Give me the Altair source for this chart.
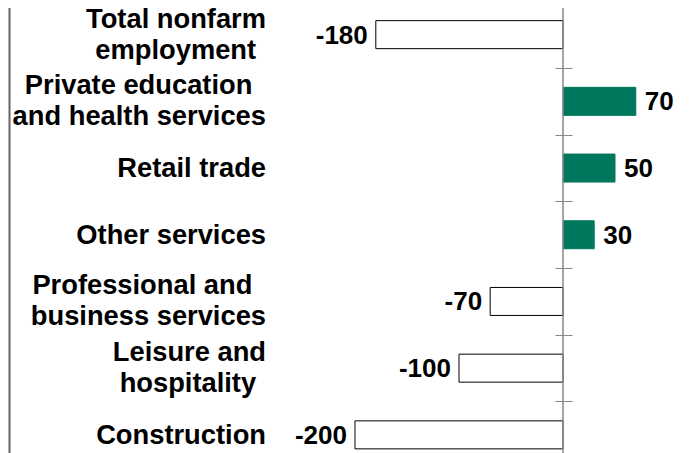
import altair as alt
import pandas as pd

categories = [
    "Total nonfarm employment",
    "Private education and health services",
    "Retail trade",
    "Other services",
    "Professional and business services",
    "Leisure and hospitality",
    "Construction",
]
label_lines = [
    ["Total nonfarm", "employment\u00a0\u200a\u200b"],
    ["Private education\u2002\u200b", "and health services"],
    ["Retail trade"],
    ["Other services"],
    ["Professional and\u2002\u200b", "business services"],
    ["Leisure and", "hospitality\u00a0\u200a\u200b"],
    ["Construction"],
]
values = [-180, 70, 50, 30, -70, -100, -200]
value_labels = ["-180", "70", "50", "30", "-70", "-100", "-200"]

df = pd.DataFrame({
    "category": categories,
    "label": ["\n".join(l) for l in label_lines],
    "nlines": [len(l) for l in label_lines],
    "value": values,
    "vlabel": value_labels,
})

W, H = 674, 445
yscale = alt.Scale(range=[-6.7, 460.2], paddingInner=0, paddingOuter=0)
xscale = alt.Scale(domain=[-533.65, 114.42], nice=False, zero=False)
FONT = "Liberation Sans"

y_axis = alt.Axis(orient="left", offset=-564, domain=False, labels=False,
                  ticks=True, tickSize=17, tickColor="#888888", tickWidth=1,
                  tickBand="extent", title=None, grid=False)
y_enc = alt.Y("category:N", sort=categories, scale=yscale, axis=y_axis)
x_enc = alt.X("value:Q", scale=xscale, axis=None)

base = alt.Chart(df)

bars = base.mark_bar(strokeWidth=1, size=28).encode(
    x=x_enc,
    x2=alt.datum(0),
    y=y_enc,
    fill=alt.when(alt.datum.value > 0).then(alt.value("#00785E")).otherwise(alt.value("white")),
    stroke=alt.when(alt.datum.value > 0).then(alt.value("#00785E")).otherwise(alt.value("black")),
)

zero_line = alt.Chart(pd.DataFrame({"z": [0]})).mark_rule(color="#888888", strokeWidth=1.5).encode(
    x=alt.X("z:Q", scale=xscale, axis=None),
    y=alt.value(-10),
    y2=alt.value(470),
)

left_border = alt.Chart(pd.DataFrame({"z": [0]})).mark_rule(color="#666666", strokeWidth=2).encode(
    x=alt.value(1.5),
    y=alt.value(-10),
    y2=alt.value(470),
)

text_style = dict(align="right", baseline="middle", lineBreak="\n", lineHeight=31,
                  fontSize=27.3, fontWeight="bold", font=FONT, color="black")

cat_labels_1 = base.transform_filter(alt.datum.nlines == 1).mark_text(
    dy=1, **text_style
).encode(x=alt.value(258), y=y_enc, text="label:N")

cat_labels_2 = base.transform_filter(alt.datum.nlines == 2).mark_text(
    dy=-15, **text_style
).encode(x=alt.value(258), y=y_enc, text="label:N")

neg_labels = base.transform_filter(alt.datum.value < 0).mark_text(
    align="right", baseline="middle", dx=-8, dy=1,
    fontSize=26, fontWeight="bold", font=FONT, color="black",
).encode(x=x_enc, y=y_enc, text="vlabel:N")

pos_labels = base.transform_filter(alt.datum.value > 0).mark_text(
    align="left", baseline="middle", dx=9, dy=1,
    fontSize=26, fontWeight="bold", font=FONT, color="black",
).encode(x=x_enc, y=y_enc, text="vlabel:N")

chart = alt.layer(
    left_border, bars, zero_line, cat_labels_1, cat_labels_2, neg_labels, pos_labels
).properties(
    width=W, height=H, padding=0, autosize=alt.AutoSizeParams(type="none"),
).configure_view(stroke=None)

chart.save("out.html", embed_options={"renderer": "svg", "actions": False})
